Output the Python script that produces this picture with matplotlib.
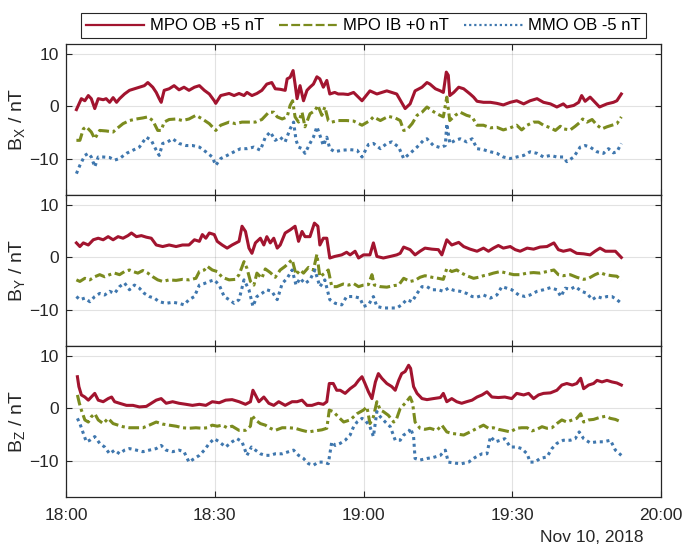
import numpy as np
import matplotlib
matplotlib.use("Agg")
import matplotlib.pyplot as plt
import matplotlib.dates as mdates
from matplotlib.lines import Line2D

plt.rcParams['font.family'] = ['Liberation Sans', 'DejaVu Sans']
plt.rcParams['mathtext.default'] = 'regular'

# ---------------- data: (minutes after 18:00, value in nT incl. offset) -------------
bx_mpo_ob = [(2.1,-0.6),(3.1,1.5),(3.8,1.1),(4.5,2.1),(5.1,1.5),(5.8,-0.4),(6.5,1.5),(7.5,1.3),(8.1,1.5),(8.8,0.8),(9.5,1.7),(10.2,0.8),(10.8,1.5),(11.8,2.4),(12.8,3.1),(13.8,3.4),(14.8,3.7),(15.8,4.0),(16.5,4.6),(17.5,3.7),(18.2,2.7),(18.8,1.5),(19.2,0.8),(19.8,3.1),(20.8,3.4),(21.8,4.0),(22.8,3.2),(23.8,3.7),(24.8,3.1),(25.9,3.7),(26.9,4.0),(27.9,3.1),(28.9,2.4),(29.9,1.1),(30.2,0.6),(31.2,2.1),(32.9,2.5),(33.9,2.1),(34.9,2.5),(35.9,2.1),(36.5,2.7),(37.5,2.1),(38.5,2.5),(39.5,3.1),(40.5,4.3),(41.5,4.6),(42.2,3.4),(43.2,3.3),(44.2,3.1),(44.6,5.3),(45.2,5.6),(45.8,6.9),(46.2,4.3),(46.6,1.5),(47.2,4.0),(47.9,1.1),(48.6,3.1),(49.2,3.7),(49.9,4.3),(50.6,5.7),(51.2,5.3),(51.9,3.7),(52.6,5.0),(53.2,2.4),(54.2,2.7),(54.9,2.4),(55.9,2.4),(56.9,2.3),(58.0,2.7),(59.7,1.1),(61.3,3.0),(62.7,2.4),(64.7,3.0),(65.7,2.7),(66.7,2.4),(68.4,-0.4),(69.4,0.5),(70.4,3.0),(71.8,3.7),(72.8,4.6),(73.4,4.3),(74.5,3.4),(75.5,3.0),(76.1,2.7),(76.7,6.6),(77.1,6.0),(77.4,2.1),(78.2,2.7),(79.2,3.7),(80.2,3.4),(81.5,2.4),(82.2,1.8),(82.9,1.0),(84.2,0.8),(85.6,0.8),(86.9,0.6),(88.2,0.3),(89.6,0.8),(90.9,1.1),(92.3,0.5),(93.6,1.1),(95.0,1.5),(96.3,0.8),(97.7,0.5),(99.0,-0.1),(100.3,0.5),(101.0,-0.1),(102.4,0.2),(103.4,0.8),(104.0,2.1),(104.7,1.0),(105.7,1.8),(106.7,0.8),(107.6,-0.1),(109.1,0.5),(110.4,0.8),(111.1,1.1),(112.0,2.4)]

bx_mpo_ib = [(2.1,-6.5),(2.8,-6.5),(3.5,-4.3),(4.1,-3.9),(5.1,-4.9),(5.8,-6.2),(6.8,-4.6),(8.1,-4.7),(9.5,-4.9),(10.2,-4.3),(11.5,-3.3),(12.8,-2.7),(14.2,-2.4),(15.5,-2.2),(16.5,-2.0),(17.5,-2.7),(18.5,-4.6),(19.2,-4.6),(19.8,-3.0),(20.8,-2.5),(22.2,-2.4),(23.5,-2.7),(24.8,-2.4),(26.2,-1.7),(27.5,-2.4),(28.9,-3.3),(30.2,-4.6),(31.2,-3.6),(32.9,-3.0),(34.2,-3.3),(35.5,-3.0),(36.9,-3.0),(38.2,-3.0),(39.5,-2.5),(40.9,-1.1),(41.9,-1.1),(42.6,-2.0),(43.6,-2.4),(44.6,-2.0),(45.2,0.2),(45.7,1.1),(46.2,-2.0),(46.9,-3.0),(47.6,-1.1),(48.2,-3.9),(49.2,-1.4),(50.2,-0.8),(50.8,0.2),(51.6,-1.7),(52.2,-0.1),(52.9,-2.7),(53.6,-3.0),(54.9,-2.7),(56.6,-2.7),(58.0,-2.8),(59.7,-3.6),(61.3,-2.7),(62.0,-2.0),(63.4,-2.7),(65.0,-1.9),(66.4,-2.2),(67.4,-2.7),(68.1,-4.6),(68.7,-4.5),(69.8,-3.3),(70.8,-1.7),(71.8,-1.1),(72.8,-0.1),(73.8,-0.8),(74.8,-1.4),(76.1,-2.0),(76.8,1.8),(77.4,-2.7),(78.5,-1.7),(79.5,-1.1),(80.8,-1.7),(81.9,-2.0),(82.9,-3.6),(84.2,-3.6),(85.6,-4.1),(86.9,-4.0),(88.2,-4.5),(89.6,-4.1),(90.9,-3.6),(91.9,-4.5),(93.0,-3.6),(94.3,-3.0),(95.3,-3.0),(96.3,-3.6),(97.7,-4.1),(98.7,-4.6),(99.7,-3.8),(100.3,-4.3),(101.7,-4.5),(102.7,-3.8),(103.7,-3.0),(104.2,-2.4),(105.1,-3.0),(106.1,-2.5),(107.1,-3.6),(108.1,-4.3),(109.1,-3.9),(110.1,-3.6),(111.1,-3.3),(112.0,-2.0)]

bx_mmo_ob = [(2.1,-12.9),(2.8,-11.3),(3.8,-9.4),(4.5,-9.0),(5.1,-9.7),(5.8,-11.6),(6.5,-9.7),(7.5,-9.7),(8.8,-9.8),(9.8,-10.3),(10.8,-10.0),(12.2,-9.0),(13.5,-8.4),(14.8,-7.8),(16.2,-5.9),(17.2,-6.5),(18.2,-8.4),(18.8,-9.4),(19.5,-7.1),(20.5,-6.8),(21.5,-6.2),(22.8,-7.1),(24.2,-7.5),(25.5,-7.5),(26.9,-7.8),(28.2,-8.7),(29.5,-9.7),(30.2,-11.3),(31.2,-10.0),(32.5,-9.4),(33.9,-8.7),(35.2,-8.1),(36.5,-8.1),(37.9,-7.8),(39.2,-8.4),(40.2,-5.9),(41.2,-4.9),(42.2,-6.5),(43.2,-5.9),(44.2,-6.8),(45.2,-4.3),(45.9,-3.0),(46.4,-6.5),(46.9,-7.8),(47.6,-8.1),(48.2,-9.0),(49.2,-7.1),(49.9,-5.9),(50.6,-3.9),(51.2,-5.5),(51.9,-7.5),(52.6,-5.9),(53.2,-8.1),(54.2,-8.7),(55.6,-8.4),(57.3,-8.3),(58.7,-8.4),(59.7,-9.7),(61.0,-7.3),(62.0,-7.1),(63.4,-8.1),(64.7,-7.1),(65.7,-6.8),(67.1,-7.8),(68.1,-10.0),(69.4,-9.0),(70.8,-7.8),(72.1,-6.5),(72.8,-6.2),(74.1,-7.5),(75.5,-7.9),(76.5,-7.5),(76.8,-3.3),(77.4,-7.1),(78.5,-6.5),(79.5,-6.2),(80.8,-6.8),(81.9,-6.2),(82.9,-8.1),(84.2,-8.3),(85.6,-8.7),(86.9,-9.0),(88.2,-9.7),(89.6,-10.0),(90.9,-9.7),(92.3,-9.4),(93.6,-8.7),(95.0,-9.0),(96.3,-9.7),(97.7,-9.4),(99.0,-9.7),(100.3,-9.7),(101.0,-10.6),(102.4,-9.7),(103.7,-7.8),(104.7,-7.5),(105.7,-7.8),(107.1,-8.7),(108.4,-9.0),(109.4,-8.1),(110.4,-8.9),(111.1,-8.7),(112.0,-7.1)]

by_mpo_ob = [(2.1,2.8),(2.8,2.1),(3.5,2.8),(4.5,2.4),(5.5,3.4),(6.5,3.7),(7.5,3.4),(8.5,4.0),(9.5,3.4),(10.5,4.0),(11.5,3.7),(12.5,4.2),(13.2,4.7),(14.2,4.0),(15.2,4.2),(16.2,3.9),(17.2,3.7),(18.2,2.4),(19.5,2.1),(20.8,2.4),(22.2,2.1),(23.5,2.4),(24.8,2.4),(25.9,3.4),(26.9,3.1),(27.5,4.4),(28.2,3.7),(28.9,4.7),(29.9,4.4),(30.5,3.1),(31.5,2.4),(32.5,1.8),(33.5,2.4),(34.9,3.1),(35.5,6.0),(36.2,5.0),(36.9,1.8),(37.5,0.8),(38.2,2.8),(39.2,3.7),(39.9,2.4),(40.5,4.0),(41.2,2.8),(41.9,3.7),(42.6,1.8),(43.2,2.4),(44.2,4.7),(45.2,5.3),(46.2,6.0),(46.9,3.1),(47.6,5.0),(48.2,4.0),(49.2,4.0),(50.1,6.6),(50.8,6.0),(51.2,2.4),(51.9,3.7),(52.6,3.7),(53.2,-0.1),(54.2,0.2),(55.6,0.5),(56.6,1.0),(57.3,0.5),(58.3,1.2),(59.0,-0.1),(60.0,0.5),(61.3,0.5),(62.0,2.8),(62.7,0.2),(64.0,-0.1),(65.4,0.2),(66.7,0.5),(67.4,0.8),(68.1,2.0),(69.4,1.5),(70.4,0.5),(71.4,1.2),(72.4,1.8),(73.8,1.6),(75.1,1.5),(75.8,0.5),(76.8,3.4),(77.8,2.4),(79.2,2.9),(80.2,2.1),(81.5,1.6),(82.9,1.2),(84.2,1.8),(85.2,1.2),(86.2,1.8),(87.2,2.3),(88.2,1.8),(89.6,2.1),(90.6,1.5),(91.6,1.2),(93.0,1.8),(94.3,1.6),(95.6,2.0),(97.0,2.1),(98.4,2.8),(99.3,1.5),(100.3,1.2),(101.7,1.5),(103.0,0.8),(104.4,0.7),(105.7,0.5),(106.7,1.2),(107.7,1.8),(108.8,1.2),(109.8,1.2),(110.8,1.2),(112.0,0.0)]

by_mpo_ib = [(2.1,-4.3),(2.8,-4.6),(3.8,-4.0),(4.8,-4.3),(5.8,-3.7),(6.8,-3.3),(7.8,-3.7),(8.8,-3.3),(9.8,-3.0),(10.8,-3.3),(11.8,-2.7),(12.8,-2.4),(13.5,-2.7),(14.5,-3.0),(15.5,-2.5),(16.5,-3.0),(17.5,-3.7),(18.5,-4.3),(19.5,-4.6),(20.8,-4.3),(22.2,-4.4),(23.5,-4.2),(24.8,-4.3),(26.2,-4.0),(26.9,-2.7),(27.9,-2.4),(28.5,-1.7),(29.5,-2.4),(30.5,-2.7),(31.5,-3.8),(32.9,-4.3),(34.2,-4.2),(34.9,-3.3),(35.9,-0.8),(36.5,-2.1),(37.2,-4.6),(37.9,-5.3),(38.5,-3.0),(39.5,-4.0),(40.2,-2.2),(41.2,-2.9),(42.2,-3.8),(43.2,-2.4),(44.2,-1.7),(45.6,-0.4),(46.4,-3.3),(47.2,-2.4),(47.9,-3.0),(48.9,-1.9),(49.9,-2.4),(50.6,0.6),(51.2,-3.7),(52.2,-3.0),(52.9,-2.4),(53.6,-5.6),(54.6,-5.6),(55.9,-5.1),(57.0,-5.3),(58.0,-5.0),(59.0,-5.6),(60.0,-5.3),(61.0,-5.2),(61.7,-3.3),(62.2,-5.3),(63.4,-5.6),(64.7,-5.7),(66.1,-5.4),(67.1,-5.3),(68.1,-4.0),(69.4,-4.6),(70.4,-4.4),(71.4,-3.8),(72.4,-3.5),(73.8,-3.8),(75.1,-4.0),(76.1,-4.2),(76.8,-2.1),(77.8,-2.7),(78.8,-2.4),(79.8,-3.0),(80.8,-3.5),(82.2,-4.0),(83.2,-3.8),(84.2,-3.5),(85.2,-3.3),(86.2,-3.0),(87.6,-2.7),(88.9,-3.0),(90.3,-3.3),(91.6,-3.3),(93.0,-3.0),(94.3,-2.9),(95.6,-3.0),(97.0,-2.7),(98.4,-2.4),(99.3,-3.3),(100.3,-3.5),(101.7,-3.3),(103.0,-3.8),(104.4,-4.2),(105.4,-4.0),(106.7,-3.3),(107.7,-2.9),(108.8,-3.3),(110.1,-3.5),(111.1,-3.6),(112.0,-4.4)]

by_mmo_ob = [(2.1,-7.5),(2.8,-8.1),(3.8,-7.8),(4.8,-8.5),(5.8,-7.5),(6.8,-6.9),(7.8,-7.2),(8.8,-6.5),(9.8,-6.9),(10.8,-5.6),(11.8,-4.9),(12.8,-6.2),(13.8,-5.3),(14.8,-5.9),(15.8,-6.9),(16.8,-7.5),(17.8,-7.8),(18.8,-8.5),(20.2,-8.8),(21.5,-8.6),(22.8,-8.8),(23.8,-9.1),(24.8,-8.1),(25.9,-7.5),(26.9,-5.3),(27.9,-5.0),(28.9,-4.6),(29.9,-4.3),(30.9,-5.3),(31.9,-7.5),(32.9,-8.1),(33.9,-8.8),(34.9,-8.1),(35.9,-4.3),(36.9,-6.2),(37.7,-9.4),(38.5,-7.5),(39.5,-6.9),(40.5,-6.2),(41.5,-6.5),(42.6,-8.1),(43.6,-5.0),(44.6,-4.0),(45.6,-2.4),(46.4,-5.3),(47.2,-4.0),(48.2,-5.0),(49.2,-4.3),(50.2,-2.4),(51.2,-5.6),(52.2,-4.3),(53.2,-8.1),(54.3,-8.8),(55.6,-9.1),(56.6,-7.5),(58.0,-7.5),(59.3,-7.8),(60.0,-9.4),(61.0,-9.1),(62.0,-7.5),(62.7,-9.4),(64.0,-9.7),(65.4,-9.7),(66.7,-9.7),(67.7,-9.1),(68.7,-8.1),(69.8,-8.5),(70.8,-6.9),(71.8,-5.6),(72.8,-5.6),(73.8,-6.2),(75.1,-6.2),(76.1,-6.5),(77.1,-5.9),(78.2,-6.3),(79.5,-6.5),(80.8,-6.9),(81.9,-7.5),(82.9,-7.6),(84.2,-7.2),(85.6,-7.8),(86.9,-7.2),(87.9,-5.6),(88.9,-5.9),(89.9,-6.2),(91.3,-7.2),(92.6,-7.5),(93.6,-7.2),(95.0,-6.5),(96.3,-6.2),(97.7,-5.8),(99.0,-6.2),(99.8,-7.5),(100.7,-5.9),(101.7,-6.1),(102.7,-5.6),(104.0,-6.5),(105.1,-6.9),(106.1,-8.1),(107.1,-7.5),(108.1,-7.8),(109.1,-7.5),(110.1,-7.5),(111.1,-8.1),(112.0,-8.8)]

bz_mpo_ob = [(2.3,6.1),(2.6,4.2),(3.1,2.6),(3.8,2.2),(4.5,1.6),(5.1,2.2),(5.8,2.9),(6.5,1.6),(7.5,1.3),(8.5,1.9),(9.2,2.2),(9.8,1.3),(10.8,1.0),(12.2,0.6),(13.5,0.6),(14.8,0.3),(16.2,0.4),(17.2,1.0),(18.2,1.6),(19.2,1.9),(20.2,1.0),(21.5,1.3),(22.8,1.0),(24.2,0.8),(25.5,0.6),(26.9,0.8),(28.2,0.6),(29.5,1.3),(30.9,1.1),(32.2,1.6),(33.5,1.7),(34.9,1.3),(36.2,0.8),(37.2,1.3),(37.7,3.5),(38.2,2.6),(38.9,1.3),(39.9,2.2),(40.9,1.0),(41.9,0.6),(42.9,1.3),(44.2,0.6),(45.6,1.3),(46.6,1.3),(47.6,1.6),(48.6,0.6),(49.6,0.6),(50.9,1.0),(51.9,0.8),(52.6,1.3),(53.1,4.8),(53.9,4.8),(54.6,3.5),(55.3,3.5),(56.3,2.9),(57.3,3.8),(58.3,4.5),(59.0,5.4),(59.7,6.1),(60.3,4.8),(61.0,3.2),(61.7,1.9),(62.4,5.1),(63.0,6.7),(63.7,5.8),(64.7,4.8),(65.7,4.2),(66.4,3.5),(67.1,5.4),(67.7,6.7),(68.4,7.1),(69.1,8.3),(69.5,7.7),(70.1,4.2),(70.8,2.9),(71.8,1.9),(72.8,1.7),(74.1,1.9),(75.5,2.1),(76.1,2.9),(76.8,1.3),(77.8,1.9),(78.8,1.3),(79.8,1.0),(80.8,1.3),(81.9,1.6),(82.9,2.2),(83.9,2.6),(84.9,3.2),(85.9,2.2),(87.2,2.1),(88.5,2.2),(89.9,1.9),(90.9,2.9),(92.3,2.6),(93.3,2.9),(94.3,1.9),(95.3,2.6),(96.3,2.9),(97.7,3.0),(99.0,3.5),(100.0,4.5),(101.0,4.8),(102.1,4.5),(103.0,4.8),(103.8,5.8),(104.4,3.8),(105.4,4.5),(106.4,4.8),(107.1,5.4),(108.1,5.1),(109.1,5.4),(110.1,5.1),(111.1,4.9),(112.0,4.5)]

bz_mpo_ib = [(2.3,2.6),(2.7,1.0),(3.1,-0.3),(3.8,-2.2),(4.5,-2.6),(5.1,-1.6),(5.8,-1.0),(6.5,-2.2),(7.5,-2.9),(8.5,-1.9),(9.5,-2.9),(10.5,-3.2),(11.5,-3.5),(12.8,-3.7),(14.2,-3.7),(15.5,-3.7),(16.8,-3.2),(18.2,-2.6),(19.5,-3.0),(20.8,-3.2),(22.2,-3.4),(23.5,-3.7),(24.8,-3.8),(26.2,-3.7),(27.5,-3.8),(28.5,-3.7),(29.5,-3.2),(30.5,-3.4),(31.5,-3.2),(32.5,-3.7),(33.5,-3.4),(34.9,-4.2),(36.2,-4.2),(37.2,-3.4),(37.5,-1.3),(38.2,-2.2),(39.2,-2.9),(40.2,-3.2),(41.2,-3.8),(42.2,-4.2),(43.6,-3.7),(44.9,-3.7),(46.2,-3.8),(47.6,-4.2),(48.9,-4.5),(50.2,-4.3),(51.6,-4.1),(52.6,-3.8),(53.1,-0.3),(53.9,-0.6),(54.9,-1.6),(56.0,-2.6),(57.3,-2.2),(58.7,-1.0),(60.0,-0.3),(60.7,0.3),(61.3,-2.9),(62.0,-1.6),(62.7,1.3),(63.4,-0.3),(64.0,-0.6),(65.0,-1.3),(66.1,-2.6),(66.7,-1.9),(67.4,0.0),(68.4,1.0),(69.4,2.2),(69.9,1.0),(70.4,-2.6),(71.4,-3.8),(72.4,-4.0),(73.4,-3.8),(74.8,-4.2),(75.8,-3.2),(76.8,-4.5),(77.8,-4.8),(78.8,-4.9),(80.2,-5.1),(81.5,-4.5),(82.9,-3.8),(84.2,-3.2),(85.2,-3.8),(86.2,-3.7),(87.2,-4.0),(88.2,-4.2),(89.6,-4.5),(90.9,-3.8),(91.9,-3.7),(93.0,-3.7),(94.0,-4.3),(95.0,-4.0),(96.0,-3.5),(97.0,-3.8),(98.0,-3.7),(99.0,-2.9),(100.0,-2.2),(101.0,-2.6),(102.1,-2.2),(103.0,-1.9),(103.8,-1.0),(104.4,-2.6),(105.4,-2.2),(106.4,-2.1),(107.7,-1.7),(108.8,-1.5),(109.8,-1.9),(110.8,-2.1),(112.0,-2.6)]

bz_mmo_ob = [(2.3,-1.9),(2.8,-2.9),(3.5,-4.8),(4.1,-6.4),(4.8,-6.1),(5.8,-5.4),(6.8,-6.7),(7.8,-7.4),(8.8,-8.7),(9.8,-8.0),(10.8,-8.7),(11.8,-8.0),(12.8,-7.7),(14.2,-8.0),(15.5,-8.3),(16.8,-8.0),(18.2,-7.7),(19.2,-7.1),(20.2,-8.0),(21.5,-8.3),(22.8,-8.0),(23.8,-8.3),(24.8,-10.3),(25.9,-9.6),(26.9,-9.0),(27.9,-8.0),(28.9,-6.7),(29.9,-5.8),(30.9,-6.4),(32.2,-7.4),(33.5,-6.4),(34.5,-5.8),(35.5,-6.4),(36.5,-9.0),(37.4,-7.4),(38.2,-8.0),(39.2,-8.7),(40.2,-9.0),(41.2,-9.0),(42.2,-8.7),(43.6,-8.7),(44.9,-8.3),(45.9,-8.0),(46.9,-9.0),(47.9,-9.6),(48.9,-10.6),(49.9,-10.9),(50.9,-10.3),(51.9,-10.3),(52.9,-10.6),(53.6,-6.4),(54.3,-7.1),(55.3,-6.7),(56.3,-6.1),(57.3,-5.1),(58.0,-3.5),(58.7,-2.6),(59.7,-1.9),(60.3,-2.2),(61.3,-3.5),(62.0,-5.4),(62.7,-0.6),(63.4,-1.6),(64.4,-2.6),(65.4,-3.5),(66.4,-6.1),(67.4,-6.1),(68.1,-5.1),(69.1,-4.5),(69.5,-3.8),(70.1,-5.4),(70.4,-9.6),(71.4,-9.9),(72.8,-9.6),(74.1,-9.4),(75.5,-9.0),(76.5,-8.0),(77.1,-10.3),(78.5,-10.5),(79.8,-10.6),(81.2,-10.3),(82.5,-9.4),(83.9,-8.7),(84.9,-8.7),(85.6,-5.4),(86.6,-6.4),(87.6,-6.1),(88.5,-5.8),(89.6,-7.4),(90.9,-7.4),(91.9,-7.7),(93.0,-8.7),(93.6,-10.3),(94.6,-10.3),(95.6,-9.6),(97.0,-9.3),(98.0,-7.7),(99.0,-6.7),(100.3,-6.1),(101.7,-6.1),(102.7,-5.8),(103.5,-4.5),(104.4,-5.8),(105.7,-6.6),(107.1,-6.4),(108.4,-6.4),(109.8,-6.1),(110.8,-8.0),(112.0,-9.0)]

series_labels = ['MPO OB +5 nT', 'MPO IB +0 nT', 'MMO OB -5 nT']
panel_labels = ['B$_X$ / nT', 'B$_Y$ / nT', 'B$_Z$ / nT']
panels = [[bx_mpo_ob, bx_mpo_ib, bx_mmo_ob],
          [by_mpo_ob, by_mpo_ib, by_mmo_ob],
          [bz_mpo_ob, bz_mpo_ib, bz_mmo_ob]]
yticks = [-10, 0, 10]
date_label = 'Nov 10, 2018'

# ---------------- styling ----------------
colors = ['#A2142F', '#7B8B1E', '#3F77AE']
styles = ['-', (0, (3.5, 1.2, 1.0, 1.2)), (0, (1.0, 1.2))]
START = np.datetime64('2018-11-10T18:00:00')
END = START + np.timedelta64(120, 'm')
DARK = '#262626'

def to_time(mins):
    return START + np.round(np.asarray(mins) * 60).astype('timedelta64[s]')

W, H = 685, 551
fig = plt.figure(figsize=(W / 100, H / 100), dpi=100)
left, right = 66, 661
tops = [44, 195, 346]
ph = 151

axes = []
for i, (series, lab) in enumerate(zip(panels, panel_labels)):
    ax = fig.add_axes([left / W, 1 - (tops[i] + ph) / H, (right - left) / W, ph / H])
    axes.append(ax)
    for s, c, ls, name in zip(series, colors, styles, series_labels):
        arr = np.array(s)
        ax.plot(to_time(arr[:, 0]), arr[:, 1], color=c, linestyle=ls, lw=2.2,
                label=name)
    ax.set_xlim(START, END)
    ax.set_ylim(-17, 12)
    ax.set_yticks(yticks)
    ax.xaxis.set_major_locator(mdates.MinuteLocator(byminute=[0, 30]))
    ax.xaxis.set_major_formatter(mdates.DateFormatter('%H:%M'))
    ax.grid(True, color=DARK, alpha=0.13, lw=0.8)
    ax.tick_params(direction='in', top=True, right=True, length=4, width=0.8,
                   colors=DARK, labelsize=12.5, pad=5)
    ax.tick_params(axis='x', pad=8)
    for sp in ax.spines.values():
        sp.set_color(DARK)
        sp.set_linewidth(0.9)
    ax.set_ylabel(lab, fontsize=14, color=DARK)
    ax.yaxis.set_label_coords(-0.066, 0.5)
    if i < 2:
        ax.tick_params(labelbottom=False)

leg_handles = [Line2D([], [], color=c, linestyle=ls, lw=1.6)
               for c, ls in zip(colors, [styles[0], (0, (4, 1.5)), (0, (1.0, 1.3))])]
leg = fig.legend(leg_handles, series_labels, loc='upper center', ncol=3,
                 bbox_to_anchor=((left + right) / 2 / W, 1 - 5 / H),
                 fontsize=12, handlelength=3.5, handletextpad=0.35,
                 columnspacing=0.9, borderpad=0.3, fancybox=False,
                 framealpha=1, edgecolor=DARK)
leg.get_frame().set_linewidth(0.8)

fig.text(643 / W, 1 - 538 / H, date_label, ha='right', va='center',
         fontsize=12.5, color=DARK)

fig.savefig('out.png', dpi=100)
